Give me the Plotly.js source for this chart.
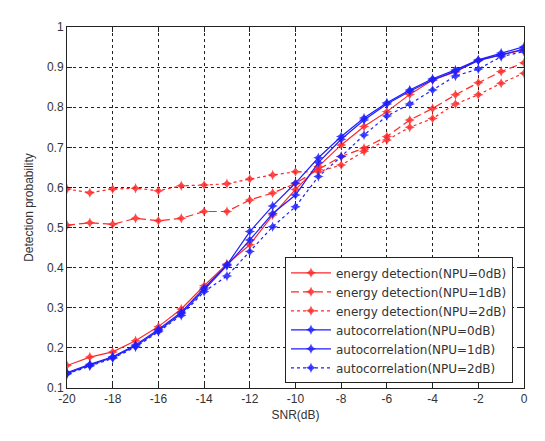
<!DOCTYPE html>
<html>
<head>
<meta charset="utf-8">
<script src="https://cdn.plot.ly/plotly-3.0.1.min.js"></script>
<style>html,body{margin:0;padding:0;background:#fff;}#chart{width:545px;height:441px;}</style>
</head>
<body>
<div id="chart"></div>
<script>
const snr = [-20,-19,-18,-17,-16,-15,-14,-13,-12,-11,-10,-9,-8,-7,-6,-5,-4,-3,-2,-1,0];
const energy0 = [0.156,0.177,0.190,0.218,0.253,0.297,0.355,0.409,0.457,0.531,0.595,0.652,0.706,0.752,0.789,0.832,0.868,0.888,0.918,0.930,0.943];
const energy1 = [0.506,0.512,0.508,0.523,0.517,0.523,0.540,0.540,0.569,0.586,0.610,0.645,0.677,0.698,0.727,0.768,0.797,0.831,0.861,0.889,0.911];
const energy2 = [0.596,0.587,0.596,0.598,0.592,0.604,0.606,0.609,0.621,0.631,0.639,0.639,0.656,0.690,0.718,0.750,0.772,0.808,0.831,0.860,0.885];
const auto0 = [0.138,0.159,0.178,0.207,0.246,0.289,0.349,0.407,0.490,0.554,0.611,0.674,0.727,0.773,0.811,0.843,0.871,0.893,0.918,0.935,0.951];
const auto1 = [0.136,0.157,0.176,0.205,0.243,0.285,0.345,0.405,0.469,0.535,0.581,0.662,0.720,0.768,0.808,0.840,0.868,0.890,0.916,0.930,0.945];
const auto2 = [0.135,0.155,0.174,0.202,0.240,0.281,0.340,0.379,0.440,0.502,0.552,0.627,0.677,0.731,0.778,0.808,0.843,0.878,0.895,0.926,0.939];
const names = ['energy detection(NPU=0dB)','energy detection(NPU=1dB)','energy detection(NPU=2dB)',
               'autocorrelation(NPU=0dB)','autocorrelation(NPU=1dB)','autocorrelation(NPU=2dB)'];
const xTicks = [-20,-18,-16,-14,-12,-10,-8,-6,-4,-2,0];
const yTicks = [0.1,0.2,0.3,0.4,0.5,0.6,0.7,0.8,0.9,1];
const yTickText = ['0.1','0.2','0.3','0.4','0.5','0.6','0.7','0.8','0.9','1'];

const red = 'rgb(255,40,40)', blue = 'rgb(30,30,255)';
function tr(y, name, color, dash) {
  return {x: snr, y: y, name: name, type: 'scatter', mode: 'lines+markers',
    line: {color: color, width: 1.2, dash: dash},
    marker: {symbol: 'star-diamond', size: 7.5, color: color, opacity: 0.85}};
}
const data = [
  tr(energy0, names[0], red, 'solid'),
  tr(energy1, names[1], red, '8px,4px'),
  tr(energy2, names[2], red, '3px,3px'),
  tr(auto0, names[3], blue, 'solid'),
  tr(auto1, names[4], blue, 'solid'),
  tr(auto2, names[5], blue, '3px,3px')
];
const axFont = {family: 'Liberation Sans, Arial, sans-serif', size: 12, color: '#333'};
const layout = {
  width: 545, height: 441,
  margin: {l: 67, r: 21, t: 27, b: 53},
  paper_bgcolor: '#fff', plot_bgcolor: '#fff',
  showlegend: true,
  legend: {x: 0.477, y: 0.362, xanchor: 'left', yanchor: 'top',
    bgcolor: '#fff', bordercolor: '#222', borderwidth: 1,
    font: {family: 'DejaVu Sans, sans-serif', size: 12, color: '#333'},
    itemwidth: 40, tracegroupgap: 0},
  xaxis: {range: [-20, 0], tickvals: xTicks, ticktext: xTicks.map(String),
    showgrid: true, gridcolor: '#222', griddash: '3px,3px', gridwidth: 1,
    showline: true, linecolor: '#222', linewidth: 1, mirror: 'allticks',
    ticks: 'inside', ticklen: 5, tickcolor: '#222', zeroline: false,
    tickfont: axFont,
    title: {text: 'SNR(dB)', font: axFont, standoff: 5}},
  yaxis: {range: [0.1, 1], tickvals: yTicks, ticktext: yTickText,
    showgrid: true, gridcolor: '#222', griddash: '3px,3px', gridwidth: 1,
    showline: true, linecolor: '#222', linewidth: 1, mirror: 'allticks',
    ticks: 'inside', ticklen: 5, tickcolor: '#222', zeroline: false,
    tickfont: axFont,
    title: {text: 'Detection probability', font: axFont, standoff: 10}}
};
Plotly.newPlot('chart', data, layout, {displayModeBar: false, staticPlot: true});
</script>
</body>
</html>
